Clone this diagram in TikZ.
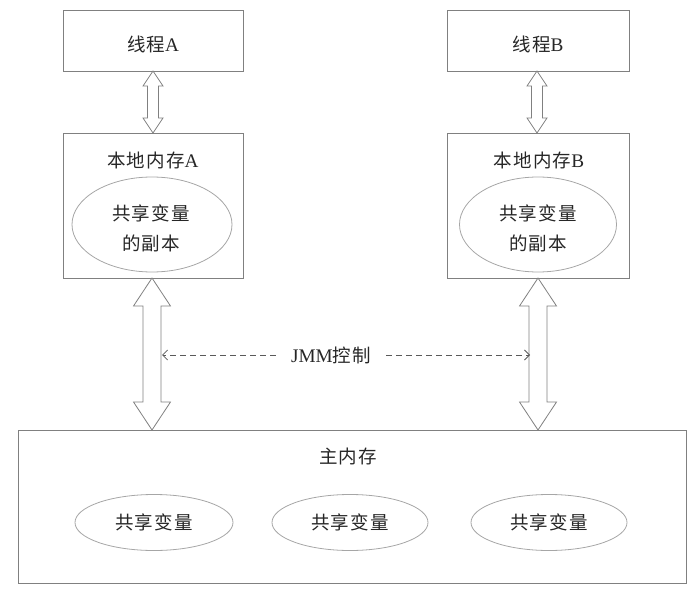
\documentclass[tikz,border=0pt]{standalone}
\usepackage{fontspec}
\setmainfont{Liberation Serif}[Scale=1.04]
\newfontfamily\cjk{Noto Sans CJK SC}[LetterSpace=6]
\usetikzlibrary{arrows.meta,calc,shapes.geometric}
\begin{document}
\begin{tikzpicture}[x=1pt,y=-1pt,
  boxst/.style={draw=black!50,line width=0.9pt,rectangle,inner sep=0pt},
  ellst/.style={draw=black!35,line width=0.8pt,ellipse,inner sep=0pt},
  txt/.style={font=\fontsize{18.5}{22}\selectfont,text=black!85,inner sep=0pt},
  hollow/.style={draw=black!50,line width=0.8pt,fill=white,line join=miter},
  dashst/.style={draw=black!65,line width=0.8pt,dash pattern=on 6pt off 4pt,-{Straight Barb[length=5pt,width=10pt]}}
]
\useasboundingbox (0,0) rectangle (700,593);
% macro for hollow double arrow
\newcommand{\dblarr}[5]{%
  \draw[hollow] let \p1=(#1), \p2=(#2) in
    (\x1,\y1) -- (\x1+#4,\y1-#5) -- (\x1+#3,\y1-#5) -- (\x1+#3,\y2+#5)
    -- (\x1+#4,\y2+#5) -- (\x1,\y2) -- (\x1-#4,\y2+#5) -- (\x1-#3,\y2+#5)
    -- (\x1-#3,\y1-#5) -- (\x1-#4,\y1-#5) -- cycle;}

% threads
\node[boxst,minimum width=180pt,minimum height=61pt] (tA) at (153,40.5) {};
\node[txt] (tAl) at (153,44) {{\cjk 线程}A};
\node[boxst,minimum width=182pt,minimum height=61pt] (tB) at (538,40.5) {};
\node[txt] (tBl) at (538,44) {{\cjk 线程}B};

% local memories
\node[boxst,minimum width=180pt,minimum height=145pt] (lA) at (153,205.5) {};
\node[txt] (lAl) at (153,160) {{\cjk 本地内存}A};
\node[ellst,minimum width=160pt,minimum height=95pt] (eA) at (152,224.5) {};
\node[txt,align=center] (eAl1) at (151,213) {\cjk 共享变量};
\node[txt,align=center] (eAl2) at (151,243) {\cjk 的副本};

\node[boxst,minimum width=182pt,minimum height=145pt] (lB) at (538,205.5) {};
\node[txt] (lBl) at (539,160) {{\cjk 本地内存}B};
\node[ellst,minimum width=157pt,minimum height=95pt] (eB) at (538,224.5) {};
\node[txt,align=center] (eBl1) at (538,213) {\cjk 共享变量};
\node[txt,align=center] (eBl2) at (538,243) {\cjk 的副本};

% main memory
\node[boxst,minimum width=668pt,minimum height=153pt] (mm) at (352,506.5) {};
\node[txt] (mml) at (348,456) {\cjk 主内存};
\node[ellst,minimum width=158pt,minimum height=56pt] (v1) at (154,522.5) {};
\node[txt] at (v1) {\cjk 共享变量};
\node[ellst,minimum width=156pt,minimum height=56pt] (v2) at (350,522.5) {};
\node[txt] at (v2) {\cjk 共享变量};
\node[ellst,minimum width=156pt,minimum height=56pt] (v3) at (549,522.5) {};
\node[txt] at (v3) {\cjk 共享变量};

% coordinates for arrows
\coordinate (aT1) at (153,71);
\coordinate (aT2) at (153,133);
\coordinate (bT1) at (537,71);
\coordinate (bT2) at (537,133);
\coordinate (aB1) at (152,278);
\coordinate (aB2) at (152,430);
\coordinate (bB1) at (538,278);
\coordinate (bB2) at (538,430);

\dblarr{aT1}{aT2}{5.5}{10}{15}
\dblarr{bT1}{bT2}{5.5}{10}{15}
\dblarr{aB1}{aB2}{9}{18.5}{28}
\dblarr{bB1}{bB2}{9}{18.5}{28}

% JMM control
\node[txt,inner xsep=15pt] (jmm) at (331,355) {JMM{\cjk 控制}};
\coordinate (jL) at (162,355);
\coordinate (jR) at (530,355);
\draw[dashst] (jmm.west) -- (jL);
\draw[dashst] (jmm.east) -- (jR);
\end{tikzpicture}
\end{document}
